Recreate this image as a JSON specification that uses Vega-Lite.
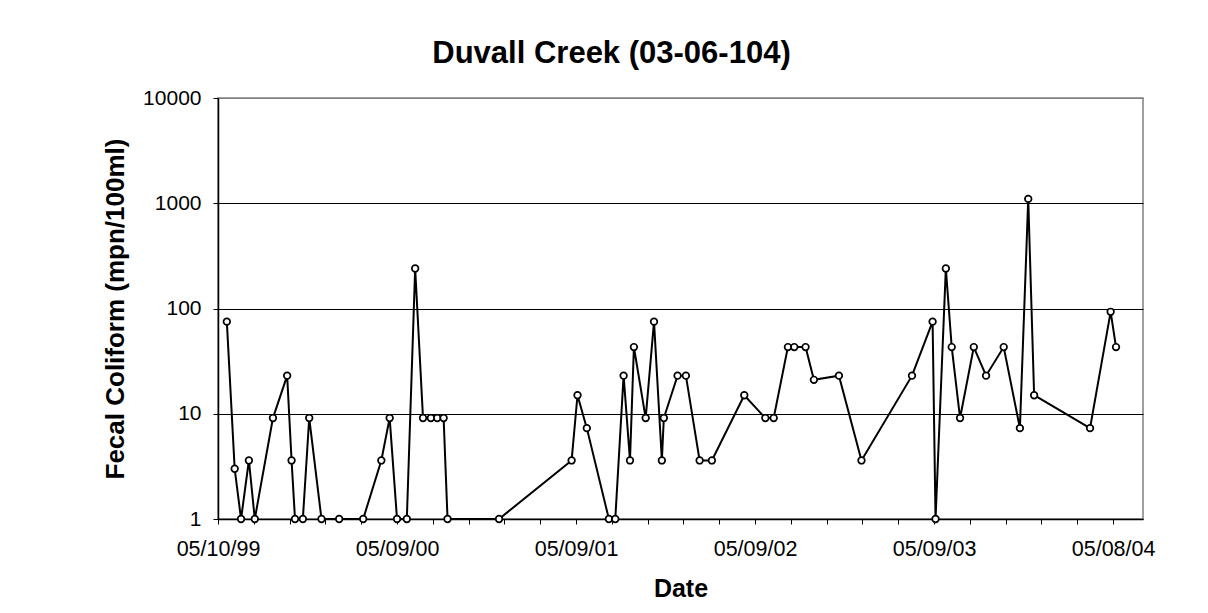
{
  "$schema": "https://vega.github.io/schema/vega-lite/v6.json",
  "autosize": "none",
  "width": 925,
  "height": 421,
  "padding": {"left": 218, "top": 98, "right": 65, "bottom": 94},
  "background": "white",
  "title": {
    "text": "Duvall Creek (03-06-104)",
    "font": "Liberation Sans",
    "fontSize": 31,
    "fontWeight": "bold",
    "color": "black",
    "anchor": "middle",
    "dx": -69,
    "offset": 17
  },
  "config": {
    "view": {"stroke": "#808080", "strokeWidth": 1.5},
    "axis": {"labelFont": "Liberation Sans", "titleFont": "Liberation Sans", "labelColor": "black", "titleColor": "black"}
  },
  "data": {
    "values": [
      {"date": "1999-05-28", "fc": 75},
      {"date": "1999-06-13", "fc": 3},
      {"date": "1999-06-26", "fc": 1},
      {"date": "1999-07-12", "fc": 3.6},
      {"date": "1999-07-24", "fc": 1},
      {"date": "1999-08-30", "fc": 9.1},
      {"date": "1999-09-28", "fc": 23},
      {"date": "1999-10-07", "fc": 3.6},
      {"date": "1999-10-14", "fc": 1},
      {"date": "1999-10-30", "fc": 1},
      {"date": "1999-11-12", "fc": 9.1},
      {"date": "1999-12-07", "fc": 1},
      {"date": "2000-01-12", "fc": 1},
      {"date": "2000-03-01", "fc": 1},
      {"date": "2000-04-07", "fc": 3.6},
      {"date": "2000-04-24", "fc": 9.1},
      {"date": "2000-05-09", "fc": 1},
      {"date": "2000-05-29", "fc": 1},
      {"date": "2000-06-15", "fc": 240},
      {"date": "2000-07-01", "fc": 9.1},
      {"date": "2000-07-17", "fc": 9.1},
      {"date": "2000-07-30", "fc": 9.1},
      {"date": "2000-08-12", "fc": 9.1},
      {"date": "2000-08-20", "fc": 1},
      {"date": "2000-12-03", "fc": 1},
      {"date": "2001-04-30", "fc": 3.6},
      {"date": "2001-05-12", "fc": 15},
      {"date": "2001-05-31", "fc": 7.3},
      {"date": "2001-07-15", "fc": 1},
      {"date": "2001-07-28", "fc": 1},
      {"date": "2001-08-14", "fc": 23},
      {"date": "2001-08-27", "fc": 3.6},
      {"date": "2001-09-04", "fc": 43},
      {"date": "2001-09-28", "fc": 9.1},
      {"date": "2001-10-15", "fc": 75},
      {"date": "2001-10-31", "fc": 3.6},
      {"date": "2001-11-04", "fc": 9.1},
      {"date": "2001-12-02", "fc": 23},
      {"date": "2001-12-19", "fc": 23},
      {"date": "2002-01-16", "fc": 3.6},
      {"date": "2002-02-10", "fc": 3.6},
      {"date": "2002-04-17", "fc": 15},
      {"date": "2002-05-30", "fc": 9.1},
      {"date": "2002-06-16", "fc": 9.1},
      {"date": "2002-07-15", "fc": 43},
      {"date": "2002-07-28", "fc": 43},
      {"date": "2002-08-20", "fc": 43},
      {"date": "2002-09-06", "fc": 21},
      {"date": "2002-10-27", "fc": 23},
      {"date": "2002-12-12", "fc": 3.6},
      {"date": "2003-03-25", "fc": 23},
      {"date": "2003-05-06", "fc": 75},
      {"date": "2003-05-12", "fc": 1},
      {"date": "2003-06-02", "fc": 240},
      {"date": "2003-06-14", "fc": 43},
      {"date": "2003-07-01", "fc": 9.1},
      {"date": "2003-07-29", "fc": 43},
      {"date": "2003-08-23", "fc": 23},
      {"date": "2003-09-28", "fc": 43},
      {"date": "2003-10-31", "fc": 7.3},
      {"date": "2003-11-17", "fc": 1100},
      {"date": "2003-11-29", "fc": 15},
      {"date": "2004-03-22", "fc": 7.3},
      {"date": "2004-05-03", "fc": 93},
      {"date": "2004-05-14", "fc": 43}
    ]
  },
  "encoding": {
    "x": {
      "field": "date",
      "type": "temporal",
      "scale": {
        "type": "utc",
        "domain": [
          {"year": 1999, "month": 5, "date": 10, "utc": true},
          {"year": 2004, "month": 7, "date": 8, "utc": true}
        ]
      },
      "axis": {
        "title": "Date",
        "titleFontSize": 25,
        "titleFontWeight": "bold",
        "titlePadding": 17,
        "labelFontSize": 21.5,
        "labelPadding": 14,
        "labelOverlap": false,
        "labelFlush": false,
        "labelBound": false,
        "format": "%m/%d/%y",
        "labelExpr": "indexof(['05/10/99','05/09/00','05/09/01','05/09/02','05/09/03','05/08/04'], datum.label) >= 0 ? datum.label : ''",
        "grid": false,
        "domainColor": "black",
        "domainWidth": 1.5,
        "tickColor": "black",
        "tickSize": 5,
        "values": [
          {"year": 1999, "month": 5, "date": 10, "utc": true},
          {"year": 1999, "month": 7, "date": 22, "utc": true},
          {"year": 1999, "month": 10, "date": 3, "utc": true},
          {"year": 1999, "month": 12, "date": 15, "utc": true},
          {"year": 2000, "month": 2, "date": 26, "utc": true},
          {"year": 2000, "month": 5, "date": 9, "utc": true},
          {"year": 2000, "month": 7, "date": 21, "utc": true},
          {"year": 2000, "month": 10, "date": 2, "utc": true},
          {"year": 2000, "month": 12, "date": 14, "utc": true},
          {"year": 2001, "month": 2, "date": 25, "utc": true},
          {"year": 2001, "month": 5, "date": 9, "utc": true},
          {"year": 2001, "month": 7, "date": 21, "utc": true},
          {"year": 2001, "month": 10, "date": 2, "utc": true},
          {"year": 2001, "month": 12, "date": 14, "utc": true},
          {"year": 2002, "month": 2, "date": 25, "utc": true},
          {"year": 2002, "month": 5, "date": 9, "utc": true},
          {"year": 2002, "month": 7, "date": 21, "utc": true},
          {"year": 2002, "month": 10, "date": 2, "utc": true},
          {"year": 2002, "month": 12, "date": 14, "utc": true},
          {"year": 2003, "month": 2, "date": 25, "utc": true},
          {"year": 2003, "month": 5, "date": 9, "utc": true},
          {"year": 2003, "month": 7, "date": 21, "utc": true},
          {"year": 2003, "month": 10, "date": 2, "utc": true},
          {"year": 2003, "month": 12, "date": 14, "utc": true},
          {"year": 2004, "month": 2, "date": 25, "utc": true},
          {"year": 2004, "month": 5, "date": 8, "utc": true}
        ]
      }
    },
    "y": {
      "field": "fc",
      "type": "quantitative",
      "scale": {"type": "log", "domain": [1, 10000], "nice": false},
      "axis": {
        "title": "Fecal Coliform (mpn/100ml)",
        "titleFontSize": 26,
        "titleFontWeight": "bold",
        "titlePadding": 14,
        "labelFontSize": 21,
        "labelPadding": 12,
        "values": [1, 10, 100, 1000, 10000],
        "format": "d",
        "grid": true,
        "gridColor": {"condition": {"test": "datum.value >= 10000", "value": "#808080"}, "value": "black"},
        "gridWidth": 1.2,
        "domainColor": "black",
        "domainWidth": 1.5,
        "tickColor": "black",
        "tickSize": 5
      }
    }
  },
  "layer": [
    {"mark": {"type": "line", "color": "black", "strokeWidth": 2}},
    {"mark": {"type": "point", "shape": "circle", "filled": false, "fill": "white", "fillOpacity": 1, "stroke": "black", "strokeWidth": 1.7, "opacity": 1, "size": 44}}
  ]
}
